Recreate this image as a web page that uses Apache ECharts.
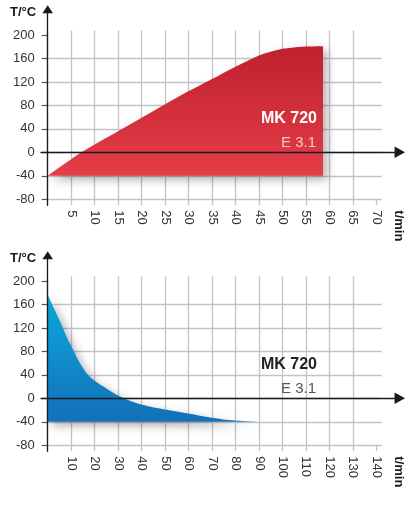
<!DOCTYPE html>
<html>
<head>
<meta charset="utf-8">
<script src="https://cdn.jsdelivr.net/npm/echarts@6/dist/echarts.min.js"></script>
<style>
html, body { margin: 0; padding: 0; background: #fff; }
#chart { width: 406px; height: 519px; }
</style>
</head>
<body>
<div id="chart"></div>
<script>
// ==============================
// DATOS
// ==============================

// curva de calentamiento (rojo): t en min, T en °C
const calentarT    = [0, 3, 7.2, 11, 15, 20, 28.1, 35, 40, 45, 47.3, 50, 52, 55, 58.6];
const calentarTemp = [-40, -23, 0, 18, 36, 59, 96, 125, 146, 165, 171, 176.5, 178.5, 180.3, 181];

// curva de enfriamiento (azul)
const enfriarT    = [0, 2.7, 5.5, 8.3, 11.2, 13.7, 16.9, 20, 23.7, 30.8, 39.3, 49.9, 59.8, 69.8, 79.7, 89];
const enfriarTemp = [177, 153, 129, 103, 80, 60, 41, 30, 20, 3, -10, -19, -26, -33, -38, -40];

// marcas de los ejes
const tempTicks   = [-80, -40, 0, 40, 80, 120, 160, 200];
const ticksArriba = [5, 10, 15, 20, 25, 30, 35, 40, 45, 50, 55, 60, 65, 70];
const ticksAbajo  = [10, 20, 30, 40, 50, 60, 70, 80, 90, 100, 110, 120, 130, 140];

const modelo = 'MK 720';
const version = 'E 3.1';

// ==============================
// ESTILOS / LAYOUT
// ==============================

const FONT = 'Liberation Sans, Arial, sans-serif';
const GRIS = '#c4c4c8';
const NEGRO = '#1a1a1a';
const K = 0.5863;          // px por °C
const T_MAX = 208;         // un poco mas arriba de 200 para que sobresalga la rejilla
const ANCHO = 334;

const paneles = [
    { cero: 152.3, tMax: 71.1, ticks: ticksArriba, xs: calentarT, ys: calentarTemp,
      c1: '#c01f2e', c2: '#e43e48', textoModelo: '#ffffff', textoVersion: 'rgba(255,255,255,0.72)' },
    { cero: 398.3, tMax: 142.2, ticks: ticksAbajo, xs: enfriarT, ys: enfriarTemp,
      c1: '#0aa9da', c2: '#1470b9', textoModelo: '#222', textoVersion: '#555' }
];

const grids = [], xAxes = [], yAxes = [], series = [], graphic = [];

paneles.forEach((p, i) => {
    const top = p.cero - T_MAX * K;
    const alto = (T_MAX + 80) * K;
    const g = i * 3;

    // rejilla de datos
    grids.push({ left: 47.7, top: top, width: ANCHO, height: alto, outerBoundsMode: 'none' });
    // eje vertical con flecha
    grids.push({ left: 47.7, top: p.cero - 143, width: ANCHO, height: 196, outerBoundsMode: 'none' });
    // linea del cero con flecha
    grids.push({ left: 41, top: top, width: 358.8, height: alto, outerBoundsMode: 'none' });

    xAxes.push({
        type: 'value', gridIndex: g, position: 'bottom', min: 0, max: p.tMax,
        axisLine: { show: false, onZero: false },
        axisTick: { show: true, length: 6, customValues: [0].concat(p.ticks),
                    lineStyle: { color: GRIS, width: 1.3 } },
        axisLabel: { customValues: p.ticks, rotate: -90, margin: 11, fontSize: 13,
                     color: '#333', fontFamily: FONT },
        splitLine: { show: true, showMaxLine: false, lineStyle: { color: GRIS, width: 1.3 } }
    });
    yAxes.push({
        type: 'value', gridIndex: g, min: -80, max: T_MAX,
        axisLine: { show: false },
        axisTick: { show: true, length: 6, customValues: tempTicks,
                    lineStyle: { color: '#555', width: 1.2 } },
        axisLabel: { customValues: tempTicks, margin: 13, fontSize: 13, color: '#333', fontFamily: FONT },
        splitLine: { show: true, showMaxLine: false, lineStyle: { color: GRIS, width: 1.3 } }
    });

    xAxes.push({ type: 'value', gridIndex: g + 1, show: false, min: 0, max: 1 });
    yAxes.push({
        type: 'value', gridIndex: g + 1, min: 0, max: 1, z: 10,
        axisLine: { show: true, symbol: ['none', 'triangle'], symbolSize: [10.5, 8],
                    lineStyle: { color: NEGRO, width: 1.3 } },
        axisTick: { show: false }, axisLabel: { show: false }, splitLine: { show: false }
    });

    xAxes.push({
        type: 'value', gridIndex: g + 2, min: 0, max: 1, z: 10,
        axisLine: { show: true, onZero: true, symbol: ['none', 'triangle'], symbolSize: [11.5, 10.5],
                    lineStyle: { color: NEGRO, width: 1.3 } },
        axisTick: { show: false }, axisLabel: { show: false }, splitLine: { show: false }
    });
    yAxes.push({ type: 'value', gridIndex: g + 2, show: false, min: -80, max: T_MAX });

    series.push({
        type: 'line', xAxisIndex: g, yAxisIndex: g,
        data: p.xs.map((t, k) => [t, p.ys[k]]),
        smooth: 0.35, showSymbol: false, silent: true,
        lineStyle: { width: 0, opacity: 0 },
        areaStyle: {
            origin: -40, opacity: 1,
            color: { type: 'linear', x: 0, y: 0, x2: 0, y2: 1,
                     colorStops: [{ offset: 0, color: p.c1 }, { offset: 1, color: p.c2 }] },
            shadowBlur: 10, shadowColor: 'rgba(0,0,0,0.3)', shadowOffsetX: 4, shadowOffsetY: 4
        }
    });

    // textos
    graphic.push({ type: 'text', x: 10, y: p.cero - 140, z: 100,
        style: { text: 'T/°C', font: 'bold 13px ' + FONT, fill: NEGRO, align: 'left', verticalAlign: 'middle' } });
    graphic.push({ type: 'text', x: 399, y: p.cero + 58, rotation: -Math.PI / 2, z: 100,
        style: { text: 't/min', font: 'bold 13px ' + FONT, fill: NEGRO, align: 'left', verticalAlign: 'middle' } });
    graphic.push({ type: 'text', x: 317, y: p.cero - 33.5, z: 100,
        style: { text: modelo, font: 'bold 16px ' + FONT, fill: p.textoModelo, align: 'right', verticalAlign: 'middle' } });
    graphic.push({ type: 'text', x: 316, y: p.cero - 9.5, z: 100,
        style: { text: version, font: '15px ' + FONT, fill: p.textoVersion, align: 'right', verticalAlign: 'middle' } });
});

const chart = echarts.init(document.getElementById('chart'), null, { renderer: 'canvas' });
chart.setOption({
    animation: false,
    backgroundColor: '#fff',
    grid: grids,
    xAxis: xAxes,
    yAxis: yAxes,
    series: series,
    graphic: graphic
});
</script>
</body>
</html>
